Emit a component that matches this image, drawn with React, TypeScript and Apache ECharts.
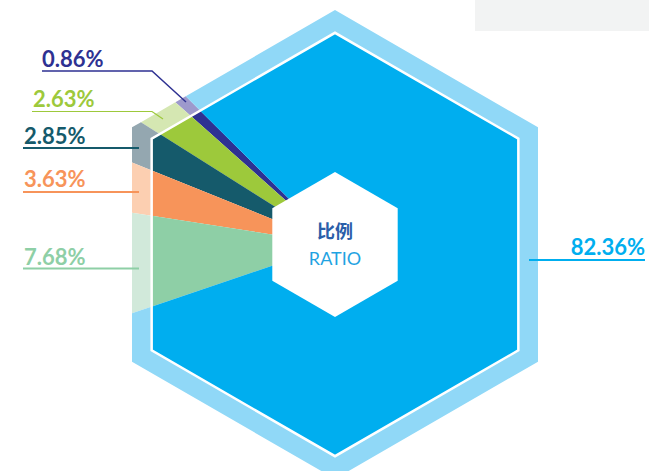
import React, { useEffect, useRef } from "react";
import * as echarts from "echarts";

// ---- data ----
const categories = ["A", "B", "C", "D", "E", "F"];
const values = [0.86, 2.63, 2.85, 3.63, 7.68, 82.36];
const colors = ["#2e3192", "#9dc93b", "#155a6b", "#f7945a", "#8ecfa6", "#00aeef"];
const lightColors = ["#9d99cc", "#d5e7b2", "#94a7b0", "#fccfb1", "#d1e9da", "#90d8f7"];

// ---- layout (annotation positions) ----
// [textX, textY, align]
const labelText: [number, number, string][] = [
  [42, 58, "left"],
  [33, 98, "left"],
  [24, 135, "left"],
  [24, 178, "left"],
  [24, 256, "left"],
  [645, 246, "right"],
];
const labelLines: number[][][] = [
  [[42, 71], [152, 71], [186, 102]],
  [[32, 111.5], [152, 111.5], [163, 119]],
  [[23, 148], [139, 148]],
  [[23, 192], [139, 192]],
  [[23, 268.5], [139, 268.5]],
  [[529, 260], [645, 260]],
];
const labelLineWidth = [1.5, 1.2, 2, 2, 2, 2];

const CX = 335;
const CY = 244.5;
const R_OUT = 234.4;
const R_IN = 211.7;
const R_CENTER = 72.4;
const START = 135.2;

const rad = (d: number) => (d * Math.PI) / 180;
function hexDist(R: number, deg: number) {
  const ap = R * Math.cos(Math.PI / 6);
  const n = Math.round(deg / 60) * 60;
  return ap / Math.cos(rad(deg - n));
}
function pt(R: number, deg: number) {
  const d = hexDist(R, deg);
  return [CX + d * Math.cos(rad(deg)), CY - d * Math.sin(rad(deg))];
}
function wedge(R: number, a1: number, a2: number) {
  const pts: number[][] = [[CX, CY], pt(R, a1)];
  let k = Math.ceil((a1 - 30) / 60);
  for (let v = 30 + 60 * k; v < a2; v += 60) {
    if (v > a1) pts.push([CX + R * Math.cos(rad(v)), CY - R * Math.sin(rad(v))]);
  }
  pts.push(pt(R, a2));
  return pts;
}
function hexPoly(R: number) {
  const pts: number[][] = [];
  for (let i = 0; i < 6; i++) {
    const v = 30 + 60 * i;
    pts.push([CX + R * Math.cos(rad(v)), CY - R * Math.sin(rad(v))]);
  }
  return pts;
}

const total = values.reduce((a, b) => a + b, 0);

export default function App() {
  const ref = useRef<HTMLDivElement>(null);
  useEffect(() => {
    if (!ref.current) return;
    const chart = echarts.init(ref.current, undefined, { renderer: "svg" });
    const option: any = {
      animation: false,
      backgroundColor: "#ffffff",
      series: [
        {
          type: "custom",
          coordinateSystem: "none",
          silent: true,
          data: values.map((v, i) => ({ name: categories[i], value: [v] })),
          renderItem: (params: any, api: any) => {
            const i = params.dataIndex;
            const v = api.value(0);
            let before = 0;
            for (let j = 0; j < i; j++) before += values[j];
            const a1 = START + (before / total) * 360;
            const a2 = a1 + (v / total) * 360;
            const txt = labelText[i];
            return {
              type: "group",
              children: [
                { type: "polygon", shape: { points: wedge(R_OUT, a1, a2) }, style: { fill: lightColors[i] } },
                { type: "polygon", shape: { points: wedge(R_IN, a1, a2) }, style: { fill: colors[i] } },
                {
                  type: "polyline",
                  z2: 20,
                  shape: { points: labelLines[i] },
                  style: { stroke: colors[i], lineWidth: labelLineWidth[i], fill: null },
                },
                {
                  type: "text",
                  z2: 20,
                  x: txt[0],
                  y: txt[1],
                  style: {
                    text: v.toFixed(2) + "%",
                    fill: colors[i],
                    fontFamily: "Lato",
                    fontWeight: "bold",
                    fontSize: 22,
                    align: txt[2],
                    verticalAlign: "middle",
                  },
                },
              ],
            };
          },
        },
      ],
      graphic: [
        {
          type: "rect",
          z: 1,
          shape: { x: 475, y: 0, width: 174, height: 31 },
          style: { fill: "#f2f3f3" },
        },
        {
          type: "polygon",
          z: 100,
          silent: true,
          shape: { points: hexPoly(R_IN) },
          style: { fill: null, stroke: "#ffffff", lineWidth: 2.5 },
        },
        {
          type: "polygon",
          z: 100,
          silent: true,
          shape: { points: hexPoly(R_CENTER) },
          style: { fill: "#ffffff" },
        },
        {
          type: "text",
          z: 101,
          x: CX,
          y: 230,
          style: {
            text: "比例",
            fill: "#2a5ea9",
            fontFamily: "Noto Sans CJK SC",
            fontWeight: "bold",
            fontSize: 18,
            align: "center",
            verticalAlign: "middle",
          },
        },
        {
          type: "text",
          z: 101,
          x: CX,
          y: 258,
          style: {
            text: "RATIO",
            fill: "#1fa3e2",
            fontFamily: "Lato",
            fontSize: 18,
            align: "center",
            verticalAlign: "middle",
          },
        },
      ],
    };
    chart.setOption(option);
    return () => chart.dispose();
  }, []);
  return (
    <div
      ref={ref}
      style={{ position: "fixed", left: 0, top: 0, width: 649, height: 471 }}
    />
  );
}
